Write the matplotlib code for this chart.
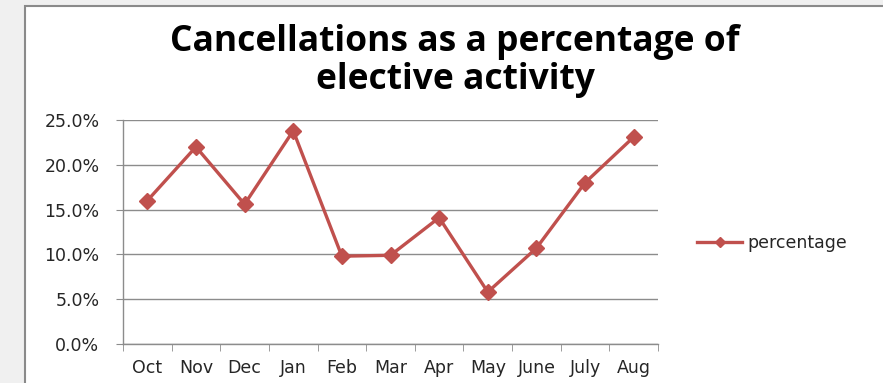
import matplotlib.pyplot as plt
from matplotlib.patches import Rectangle
from matplotlib.ticker import PercentFormatter

months = ['Oct', 'Nov', 'Dec', 'Jan', 'Feb', 'Mar', 'Apr', 'May', 'June', 'July', 'Aug']
percentage = [16.0, 22.0, 15.6, 23.8, 9.8, 9.9, 14.1, 5.8, 10.7, 18.0, 23.1]
y_ticks = [0, 5, 10, 15, 20, 25]

RED = '#c0504d'
GRID = '#8c8c8c'
TEXT = '#262626'

plt.rcParams['font.family'] = ['DejaVu Sans']

fig = plt.figure(figsize=(8.83, 3.83), dpi=100)
fig.patch.set_facecolor('#f0f0f0')

# white chart frame behind everything
frame = Rectangle((25 / 883, -0.05), 1.0, 1 - 6 / 383 + 0.05,
                  transform=fig.transFigure, facecolor='white',
                  edgecolor='#8a8a8a', linewidth=1.5, zorder=-10)
fig.add_artist(frame)

ax = fig.add_axes([123 / 883, 1 - 344 / 383, 535 / 883, 224 / 383])
ax.patch.set_alpha(0)
x = range(len(months))
ax.plot(x, percentage, color=RED, linewidth=2.4, marker='D', markersize=8,
        label='percentage', zorder=3)

ax.set_xlim(-0.5, len(months) - 0.5)
ax.set_ylim(0, 25)
ax.set_yticks(y_ticks)
ax.yaxis.set_major_formatter(PercentFormatter(decimals=1))
ax.set_xticks(list(x))
ax.set_xticklabels(months)
ax.set_xticks([i - 0.5 for i in range(len(months) + 1)], minor=True)

ax.grid(axis='y', color=GRID, linewidth=1)
ax.set_axisbelow(True)
for side in ['top', 'right']:
    ax.spines[side].set_visible(False)
for side in ['left', 'bottom']:
    ax.spines[side].set_color(GRID)
    ax.spines[side].set_linewidth(1)

ax.tick_params(axis='x', which='major', length=0, pad=11, labelsize=12.5, colors=TEXT)
ax.tick_params(axis='x', which='minor', length=5, color=GRID, direction='out')
ax.tick_params(axis='y', length=5, color=GRID, pad=12, labelsize=12.5, labelcolor=TEXT)

fig.text(455 / 883, 1 - 61 / 383, 'Cancellations as a percentage of\nelective activity',
         ha='center', va='center', fontsize=25.5, fontweight='bold',
         family=['Open Sans', 'DejaVu Sans'], linespacing=1.08)

ax.legend(loc='center left', bbox_to_anchor=(690 / 883, 1 - 243 / 383),
          bbox_transform=fig.transFigure, frameon=False, fontsize=12.5,
          handlelength=2.6, handletextpad=0.3, markerscale=0.7,
          borderaxespad=0, labelcolor=TEXT)

fig.savefig('out.png', dpi=100, facecolor=fig.get_facecolor())
